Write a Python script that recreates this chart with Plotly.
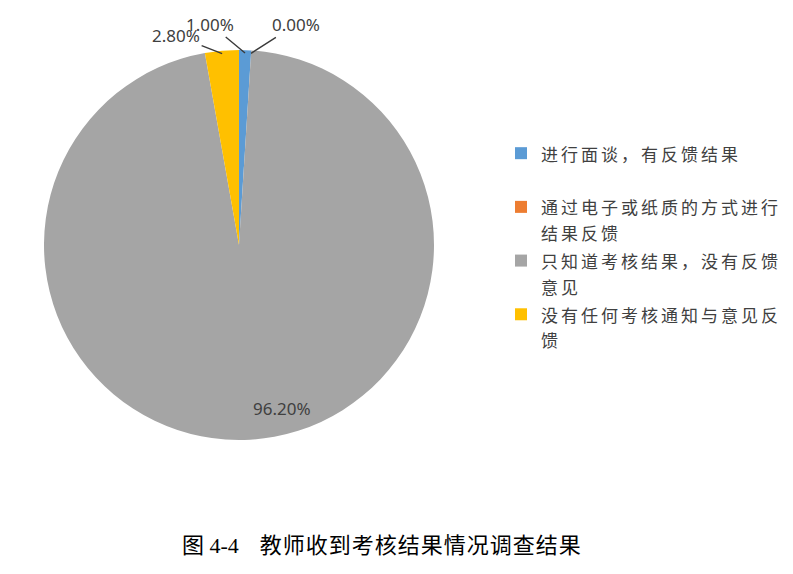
import math
import plotly.graph_objects as go

# ---- data ----
categories = [
    "进行面谈，有反馈结果",
    "通过电子或纸质的方式进行结果反馈",
    "只知道考核结果，没有反馈意见",
    "没有任何考核通知与意见反馈",
]
# legend labels as wrapped in the reference
legend_lines = [
    ["进行面谈，有反馈结果", " "],
    ["通过电子或纸质的方式进行", "结果反馈"],
    ["只知道考核结果，没有反馈", "意见"],
    ["没有任何考核通知与意见反", "馈"],
]
values = [1.0, 0.0, 96.2, 2.8]
pct_labels = ["1.00%", "0.00%", "96.20%", "2.80%"]
colors = ["#5B9BD5", "#ED7D31", "#A5A5A5", "#FFC000"]
caption_fig = "图 4-4"
caption_text = "教师收到考核结果情况调查结果"

W, H = 793, 574
OFF = 8                     # page body margin
CX, CY, R = 239, 245, 195   # pie layout (screen pixels)


def px2paper(px, py):
    return (px - OFF) / W, 1 - (py - OFF) / H


def fmt(lines):
    return "<br>".join(
        f'<span style="font-size:17px;letter-spacing:3px">{l}</span>' for l in lines
    )


labels = [fmt(l) for l in legend_lines]

x0, y1 = px2paper(CX - R, CY - R)
x1, y0 = px2paper(CX + R, CY + R)

fig = go.Figure()
fig.add_trace(go.Pie(
    labels=labels,
    values=values,
    sort=False,
    direction="clockwise",
    rotation=0,
    marker=dict(colors=colors, line=dict(width=0)),
    textinfo="none",
    hoverinfo="skip",
    domain=dict(x=[x0, x1], y=[y0, y1]),
    showlegend=True,
))

# annotation anchors computed from the data (slice angles)
total = sum(values)
cum = 0.0
angles = []
for v in values:
    start = cum / total * 360
    end = (cum + v) / total * 360
    angles.append((start, end))
    cum += v


def pt(angle_deg, rfrac):
    a = math.radians(angle_deg)
    px = CX + R * rfrac * math.sin(a)
    py = CY - R * rfrac * math.cos(a)
    return px2paper(px, py)


label_font = dict(family="Noto Sans, Open Sans, sans-serif", size=17, color="#404040")
# style offsets for outside labels (pixels)
offsets = {0: (-35, -29), 1: (45, -29), 3: (-46, -18)}
for i, (s, e) in enumerate(angles):
    mid = (s + e) / 2
    if i == 2:
        x, y = pt(mid, 0.85)
        fig.add_annotation(x=x, y=y, xref="paper", yref="paper", text=pct_labels[i],
                           xanchor="center", yanchor="middle",
                           showarrow=False, font=label_font, xshift=34, yshift=2)
    else:
        x, y = pt(mid if values[i] > 0 else s, 0.985)
        ax, ay = offsets[i]
        fig.add_annotation(x=x, y=y, xref="paper", yref="paper", text=pct_labels[i],
                           showarrow=True, arrowhead=0, arrowwidth=1.4, arrowcolor="#3a3a3a",
                           ax=ax, ay=ay, font=label_font, standoff=0)

cx_, cy_ = px2paper(382, 545)
fig.add_annotation(x=cx_, y=cy_, xref="paper", yref="paper",
                   text=f'{caption_fig}<span style="letter-spacing:10px"> </span> '
                        f'<span style="letter-spacing:1px">{caption_text}</span>',
                   xanchor="center", yanchor="middle",
                   showarrow=False,
                   font=dict(family="Liberation Serif, Noto Sans CJK SC, serif", size=22, color="#000000"))

lx, ly = px2paper(501, 134)
fig.update_layout(
    width=W, height=H,
    margin=dict(l=0, r=0, t=0, b=0),
    paper_bgcolor="white",
    plot_bgcolor="white",
    legend=dict(
        x=lx, y=ly, xanchor="left", yanchor="top",
        font=dict(family="Noto Sans CJK SC, sans-serif", size=19.5, color="#404040"),
        valign="top",
        itemclick=False,
        bgcolor="rgba(0,0,0,0)",
    ),
)

fig.write_html("out.html")
